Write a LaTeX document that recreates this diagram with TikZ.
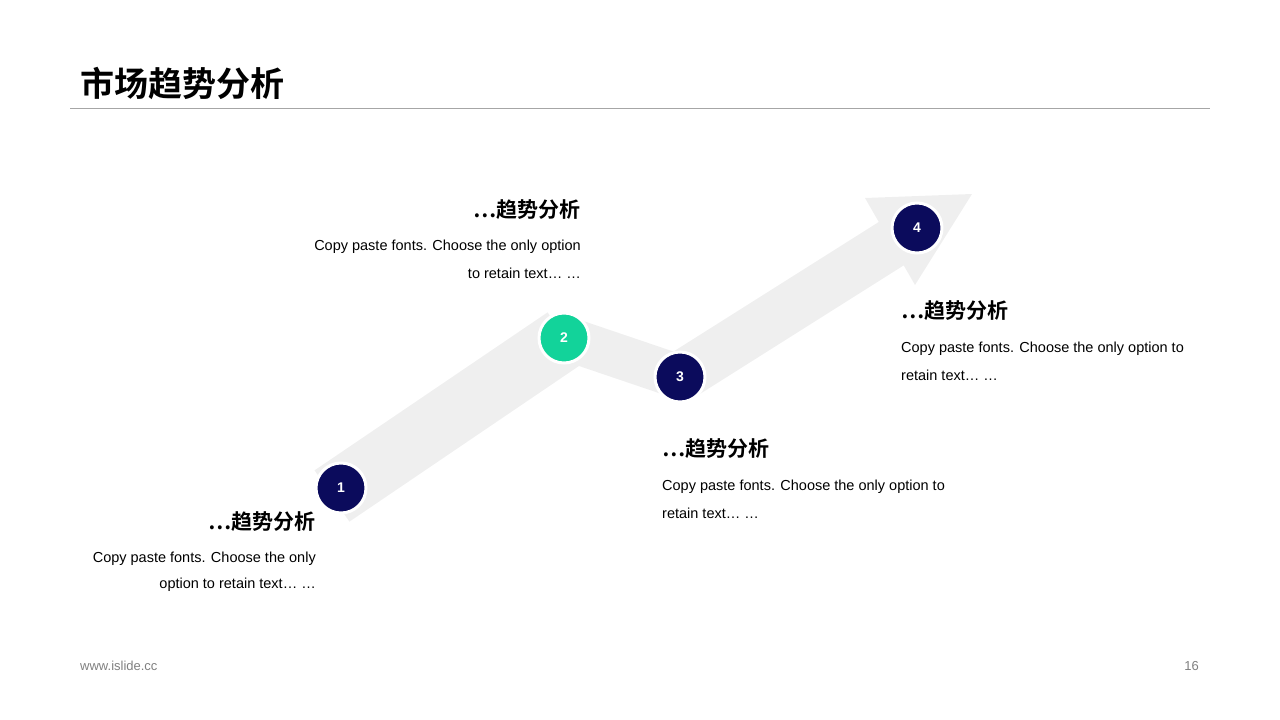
\documentclass[tikz,border=0pt]{standalone}
\usepackage{fontspec}
\setmainfont{Liberation Sans}
\newfontfamily\cjk{Noto Sans CJK SC}[BoldFont={* Bold}]
\definecolor{navy}{HTML}{0B0B5C}
\definecolor{mint}{HTML}{12D39A}
\definecolor{band}{HTML}{EFEFEF}
\begin{document}
\begin{tikzpicture}[x=1pt,y=-1pt,
  dot/.style={circle,minimum size=50pt,inner sep=0pt,draw=white,line width=3pt,font=\fontsize{14}{14}\selectfont\bfseries,text=white},
  head/.style={inner sep=0pt,font=\cjk\fontsize{21}{21}\selectfont\bfseries},
  body/.style={inner sep=0pt,font=\fontsize{14.5}{14.5}\selectfont}]
\useasboundingbox (0,0) rectangle (1280,720);
\node[anchor=west,inner sep=0pt,font=\cjk\fontsize{34}{34}\selectfont\bfseries] (title) at (80,83) {市场趋势分析};
\coordinate (l1) at (70,108); \coordinate (l2) at (1210,108);
\draw[gray!70,line width=0.8pt] (l1) -- (l2);
% band
\coordinate (p0) at (332,496); \coordinate (p1) at (565,338);
\coordinate (p2) at (680,377); \coordinate (p3) at (905,235);
\draw[band,line width=62pt] (p0) -- (p1);
\draw[band,line width=44pt] (p1) -- (p2);
\draw[band,line width=50pt] (p2) -- (p3);
\coordinate (h1) at (865,198); \coordinate (h2) at (972,194); \coordinate (h3) at (915,285);
\fill[band] (h1) -- (h2) -- (h3) -- cycle;
\node[dot,fill=navy] (n1) at (341,488) {1};
\node[dot,fill=mint] (n2) at (564,338) {2};
\node[dot,fill=navy] (n3) at (680,377) {3};
\node[dot,fill=navy] (n4) at (917,228) {4};
% texts
\node[head,anchor=east] (t2) at (581,210) {…趋势分析};
\node[body,anchor=east] (b2a) at (581,247) {Copy paste fonts. Choose the only option};
\node[body,anchor=east] (b2b) at (581,273) {to retain text… …};
\node[head,anchor=east] (t1) at (316,522) {…趋势分析};
\node[body,anchor=east] (b1a) at (316,559) {Copy paste fonts. Choose the only};
\node[body,anchor=east] (b1b) at (316,585) {option to retain text… …};
\node[head,anchor=west] (t3) at (662,449) {…趋势分析};
\node[body,anchor=west] (b3a) at (662,487) {Copy paste fonts. Choose the only option to};
\node[body,anchor=west] (b3b) at (662,513) {retain text… …};
\node[head,anchor=west] (t4) at (901,311) {…趋势分析};
\node[body,anchor=west] (b4a) at (901,349) {Copy paste fonts. Choose the only option to};
\node[body,anchor=west] (b4b) at (901,375) {retain text… …};
\node[anchor=west,inner sep=0pt,text=gray,font=\fontsize{13}{13}\selectfont] (f1) at (80,666) {www.islide.cc};
\node[anchor=east,inner sep=0pt,text=gray,font=\fontsize{13}{13}\selectfont] (f2) at (1199,666) {16};
\end{tikzpicture}
\end{document}
